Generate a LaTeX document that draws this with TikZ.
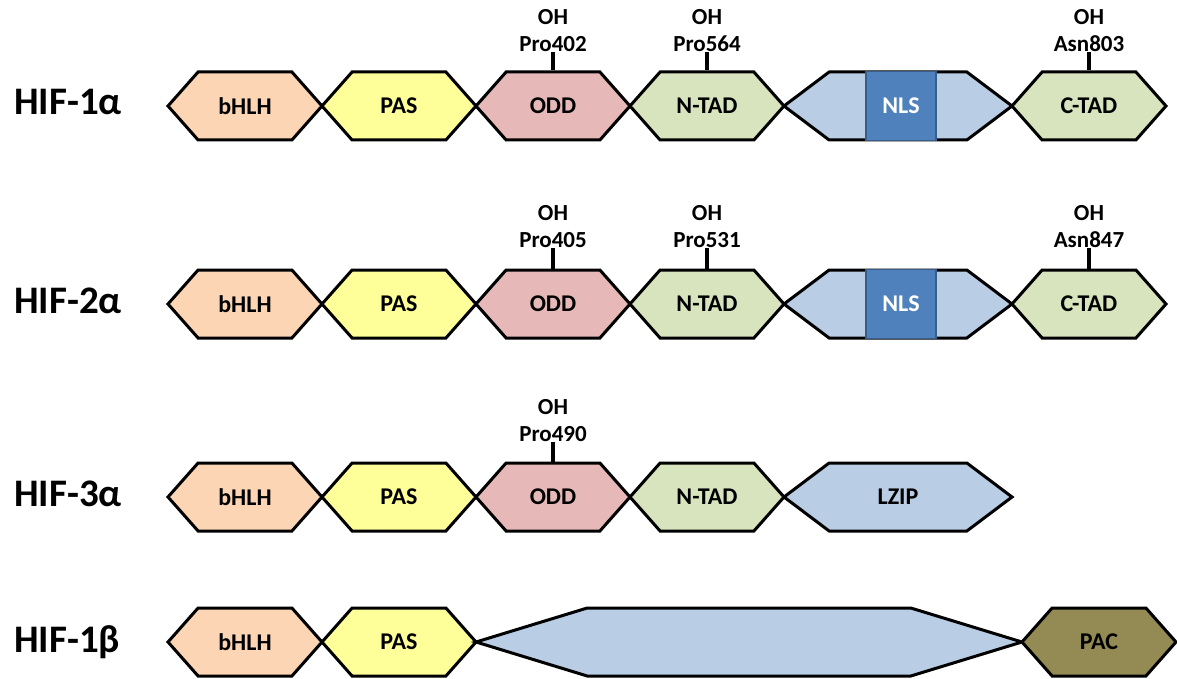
\documentclass[tikz,border=0pt]{standalone}
\usepackage{fontspec}
\setmainfont{Carlito}
\usepackage{xcolor}
\usepackage{tikz}
\usetikzlibrary{shapes.symbols}

\definecolor{bhlhcol}{HTML}{FCD5B5}
\definecolor{pascol}{HTML}{FFFF99}
\definecolor{oddcol}{HTML}{E6B9B8}
\definecolor{tadcol}{HTML}{D7E4BD}
\definecolor{linkcol}{HTML}{B9CDE5}
\definecolor{nlscol}{HTML}{4F81BD}
\definecolor{nlsline}{HTML}{385D8A}
\definecolor{paccol}{HTML}{948A54}

\begin{document}
\begin{tikzpicture}[x=1pt,y=-1pt]
            \tikzstyle{dombox}=[draw,line width=3pt,shape=signal,signal to=east and west,signal pointer angle=97,minimum width=154pt,minimum height=68pt,inner sep=0pt,font=\bfseries\fontsize{24}{28}\selectfont];
            \tikzstyle{longbox}=[dombox,signal pointer angle=74,minimum width=228pt];
            \tikzstyle{nlsbox}=[draw=nlsline,fill=nlscol,line width=1.5pt,minimum width=70pt,minimum height=69pt,inner sep=0pt,text=white,font=\bfseries\fontsize{24}{28}\selectfont];
            \tikzstyle{site}=[align=center,inner sep=0pt,anchor=south,font=\bfseries\fontsize{23}{27}\selectfont];
            \tikzstyle{hif}=[anchor=base west,inner sep=0pt,font=\bfseries\fontsize{39}{42}\selectfont];
            \useasboundingbox (0,0) rectangle (1177,679);
            % HIF-1alpha
            \node[hif] (h1a) at (14,115) {HIF-1α};
            \node[dombox,fill=bhlhcol] (bhlh1) at (245,106) {bHLH};
            \node[dombox,fill=pascol] (pas1) at (399,106) {PAS};
            \node[dombox,fill=oddcol] (odd1) at (553,106) {ODD};
            \node[dombox,fill=tadcol] (ntad1) at (707,106) {N-TAD};
            \node[longbox,fill=linkcol] (link1) at (898,106) {};
            \node[nlsbox] (nls1) at (901,106) {NLS};
            \node[dombox,fill=tadcol] (ctad1) at (1089,106) {C-TAD};
            \node[site] (s1a) at (553,52) {OH\\Pro402};
            \node[site] (s1b) at (707,52) {OH\\Pro564};
            \node[site] (s1c) at (1089,52) {OH\\Asn803};
            \path[draw] [line width=3.5pt] (s1a.south) -- (odd1.north);
            \path[draw] [line width=3.5pt] (s1b.south) -- (ntad1.north);
            \path[draw] [line width=3.5pt] (s1c.south) -- (ctad1.north);
            % HIF-2alpha
            \node[hif] (h2a) at (14,313) {HIF-2α};
            \node[dombox,fill=bhlhcol] (bhlh2) at (245,304) {bHLH};
            \node[dombox,fill=pascol] (pas2) at (399,304) {PAS};
            \node[dombox,fill=oddcol] (odd2) at (553,304) {ODD};
            \node[dombox,fill=tadcol] (ntad2) at (707,304) {N-TAD};
            \node[longbox,fill=linkcol] (link2) at (898,304) {};
            \node[nlsbox] (nls2) at (901,304) {NLS};
            \node[dombox,fill=tadcol] (ctad2) at (1089,304) {C-TAD};
            \node[site] (s2a) at (553,248) {OH\\Pro405};
            \node[site] (s2b) at (707,248) {OH\\Pro531};
            \node[site] (s2c) at (1089,248) {OH\\Asn847};
            \path[draw] [line width=3.5pt] (s2a.south) -- (odd2.north);
            \path[draw] [line width=3.5pt] (s2b.south) -- (ntad2.north);
            \path[draw] [line width=3.5pt] (s2c.south) -- (ctad2.north);
            % HIF-3alpha
            \node[hif] (h3a) at (14,506) {HIF-3α};
            \node[dombox,fill=bhlhcol] (bhlh3) at (245,497) {bHLH};
            \node[dombox,fill=pascol] (pas3) at (399,497) {PAS};
            \node[dombox,fill=oddcol] (odd3) at (553,497) {ODD};
            \node[dombox,fill=tadcol] (ntad3) at (707,497) {N-TAD};
            \node[longbox,fill=linkcol] (lzip3) at (898,497) {LZIP};
            \node[site] (s3a) at (553,442) {OH\\Pro490};
            \path[draw] [line width=3.5pt] (s3a.south) -- (odd3.north);
            % HIF-1beta
            \node[hif] (h1b) at (14,652) {HIF-1β};
            \node[dombox,fill=bhlhcol] (bhlh4) at (245,642) {bHLH};
            \node[dombox,fill=pascol] (pas4) at (399,642) {PAS};
            \node[dombox,fill=linkcol,signal pointer angle=34,minimum width=546pt] (link4) at (749,642) {};
            \node[dombox,fill=paccol] (pac4) at (1099,642) {PAC};
\end{tikzpicture}
\end{document}
